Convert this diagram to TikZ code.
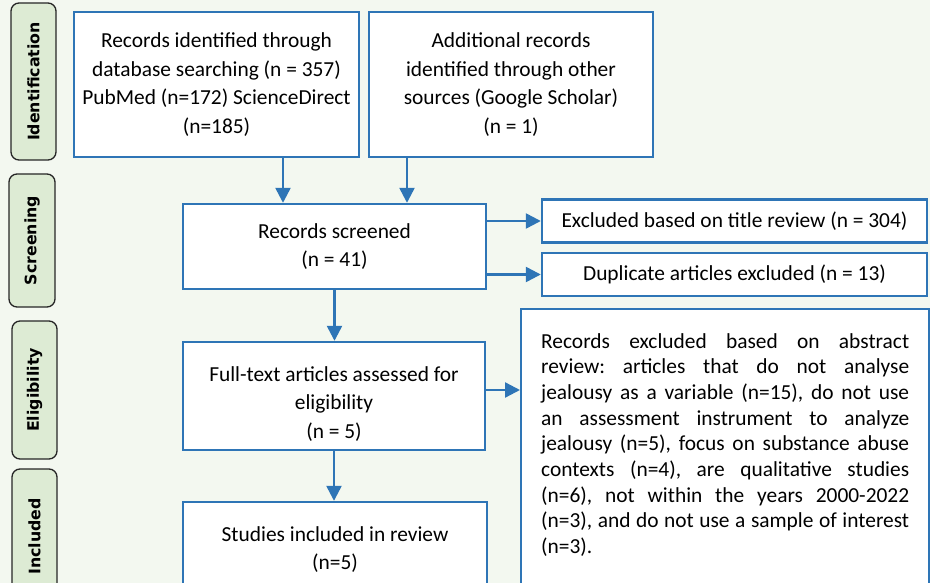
\documentclass[tikz,border=0pt]{standalone}
\usepackage{fontspec}
\setmainfont{Carlito}
\newfontfamily\stagefont{DejaVu Sans}
\usetikzlibrary{arrows.meta}
\definecolor{boxblue}{HTML}{2E75B6}
\definecolor{pagegreen}{HTML}{F3F8F0}
\definecolor{stagegreen}{HTML}{DDEBD4}

\begin{document}
\begin{tikzpicture}[x=1pt, y=-1pt,
		box_style/.style={draw=boxblue, line width=2.4pt, fill=white, align=center, inner sep=0pt, font=\fontsize{21.4}{28.5}\selectfont},
		stage_style/.style={draw=black!85, line width=1.3pt, fill=stagegreen, rounded corners=8pt, rotate=90, inner sep=0pt, font=\stagefont\bfseries\fontsize{15.8}{18}\selectfont},
		arrow_style/.style={draw=boxblue, line width=2.4pt, -{Triangle[length=15pt,width=15pt]}}]
		
		\useasboundingbox[fill=pagegreen] (0,0) rectangle (930,583);
		\clip (0,0) rectangle (930,583);
		
		% stages
		\node[stage_style, minimum width=157pt, minimum height=45pt] (st_ident) at (33.5,81.5) {Identification};
		\node[stage_style, minimum width=133pt, minimum height=46pt] (st_screen) at (32,240.5) {Screening};
		\node[stage_style, minimum width=138pt, minimum height=45pt] (st_elig) at (34.5,390) {Eligibility};
		\node[stage_style, minimum width=135pt, minimum height=45pt] (st_incl) at (34.5,536.5) {Included};
		
		% boxes
		\node[box_style, minimum width=285pt, minimum height=145pt] (id_db) at (216.5,84.5) {Records identified through\\database searching (n = 357)\\PubMed (n=172) ScienceDirect\\(n=185)};
		\node[box_style, minimum width=284pt, minimum height=145pt] (id_other) at (511,84.5) {Additional records\\identified through other\\sources (Google Scholar)\\(n = 1)};
		\node[box_style, minimum width=303pt, minimum height=85pt] (screened) at (334.5,246.5) {Records screened\\(n = 41)};
		\node[box_style, minimum width=385pt, minimum height=43pt] (ex_title) at (734.5,221) {Excluded based on title review (n = 304)};
		\node[box_style, minimum width=385pt, minimum height=43pt] (ex_dup) at (734.5,274.5) {Duplicate articles excluded (n = 13)};
		\node[box_style, minimum width=302pt, minimum height=108pt] (fulltext) at (334,396) {\rule{0pt}{30pt}Full-text articles assessed for\\eligibility\\(n = 5)};
		\node[box_style, minimum width=304pt, minimum height=95pt] (included) at (335,549.5) {Studies included in review\\(n=5)};
		\node[box_style, anchor=north west, text width=368pt, align=justify, inner xsep=20pt, inner ysep=24pt,
			font=\fontsize{21.4}{25.7}\selectfont] (ex_abstract) at (520,308)
			{\frenchspacing\hyphenpenalty=10000 \exhyphenpenalty=10000 Records excluded based on abstract\linebreak review: articles that do not analyse\linebreak jealousy as a variable (n=15), do not use\linebreak an assessment instrument to analyze\linebreak jealousy (n=5), focus on substance abuse\linebreak contexts (n=4), are qualitative studies\linebreak (n=6), not within the years 2000-2022\linebreak (n=3), and do not use a sample of interest\linebreak (n=3).\par\rule{0pt}{50pt}};
		
		\coordinate (db_out) at ([xshift=66.5pt]id_db.south);
		\coordinate (other_out) at ([xshift=-104pt]id_other.south);
		\coordinate (ft_out) at ([yshift=6pt]fulltext.east);
		
		\draw[arrow_style] (db_out) -- (db_out |- screened.north);
		\draw[arrow_style] (other_out) -- (other_out |- screened.north);
		\draw[arrow_style] (screened.east |- ex_title.west) -- (ex_title.west);
		\draw[arrow_style] (screened.east |- ex_dup.west) -- (ex_dup.west);
		\draw[arrow_style] (screened.south) -- (screened.south |- fulltext.north);
		\draw[arrow_style] (ft_out) -- (ft_out -| ex_abstract.west);
		\draw[arrow_style] (fulltext.south) -- (fulltext.south |- included.north);
		
\end{tikzpicture}
\end{document}
